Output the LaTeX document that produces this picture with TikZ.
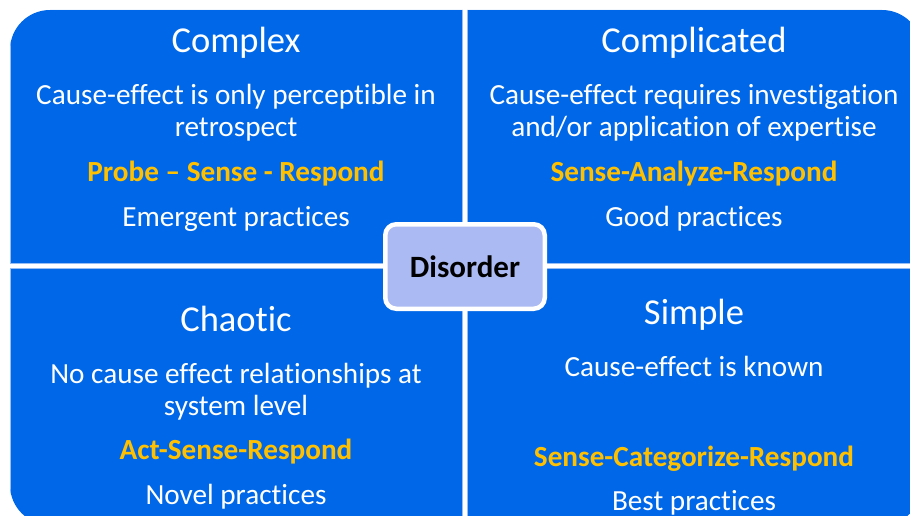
\documentclass[tikz,border=0pt]{standalone}
\usepackage{fontspec}
\setmainfont{Carlito}[Ligatures=NoCommon]
\definecolor{quadblue}{RGB}{0,104,232}
\definecolor{quadedge}{RGB}{150,190,245}
\definecolor{goldtext}{RGB}{255,192,0}
\definecolor{disorderfill}{RGB}{171,186,242}
\tikzset{
  quad/.style={fill=quadblue, draw=quadedge, line width=1pt},
  title/.style={anchor=base, text=white, font=\fontsize{36.5}{40}\selectfont},
  body/.style={anchor=base, text=white, font=\fontsize{29.2}{34}\selectfont},
  method/.style={anchor=base, text=goldtext, font=\fontsize{29.2}{34}\selectfont\bfseries},
  centerbox/.style={draw=white, line width=4.5pt, fill=disorderfill,
    rounded corners=11pt, minimum width=159.5pt, minimum height=84.5pt,
    inner sep=0pt, font=\fontsize{31}{36}\selectfont\bfseries, text=black}
}
\begin{document}
\begin{tikzpicture}[x=1pt, y=-1pt]
\useasboundingbox (0,0) rectangle (910,516);
\fill[white] (0,0) rectangle (910,516);

% four domains, outer corners rounded by a common clip
\begin{scope}
  \clip[rounded corners=40pt] (10,10) rectangle (922,525);
  \path[quad] (10,10) rectangle (462.3,263.3);
  \path[quad] (467.3,10) rectangle (930,263.3);
  \path[quad] (10,268.8) rectangle (462.3,530);
  \path[quad] (467.3,268.8) rectangle (930,530);
\end{scope}

% Complex
\node[title]  (cxT) at (236,53)  {Complex};
\node[body]   (cxA) at (236,105) {Cause-effect is only perceptible in};
\node[body]   (cxB) at (236,137) {retrospect};
\node[method] (cxM) at (236,181) {Probe – Sense - Respond};
\node[body]   (cxP) at (236,226) {Emergent practices};

% Complicated
\node[title]  (cdT) at (694,53)  {Complicated};
\node[body]   (cdA) at (694,105) {Cause-effect requires investigation};
\node[body]   (cdB) at (694,137) {and/or application of expertise};
\node[method] (cdM) at (694,181) {Sense-Analyze-Respond};
\node[body]   (cdP) at (694,226) {Good practices};

% Chaotic
\node[title]  (chT) at (236,331) {Chaotic};
\node[body]   (chA) at (236,383) {No cause effect relationships at};
\node[body]   (chB) at (236,415) {system level};
\node[method] (chM) at (236,459) {Act-Sense-Respond};
\node[body]   (chP) at (236,504) {Novel practices};

% Simple
\node[title]  (smT) at (694,324) {Simple};
\node[body]   (smA) at (694,376) {Cause-effect is known};
\node[method] (smM) at (694,466) {Sense-Categorize-Respond};
\node[body]   (smP) at (694,510) {Best practices};

% Disorder in the middle
\node[centerbox] (dis) at (465,266.5) {Disorder};
\end{tikzpicture}
\end{document}
